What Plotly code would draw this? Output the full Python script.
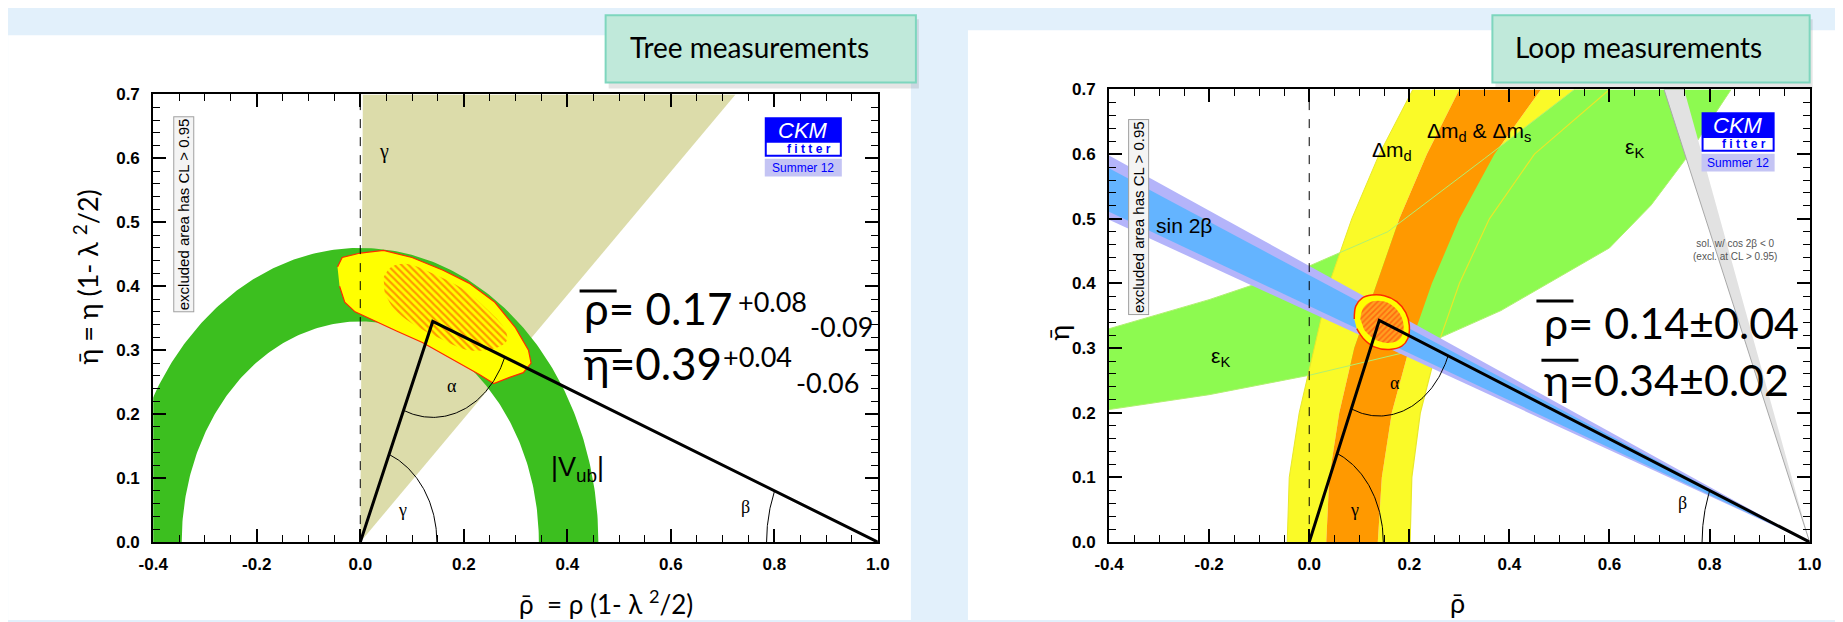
import numpy as np
import plotly.graph_objects as go

W, H = 1843, 622
OFF = 8  # default page margin of the html body
# measured screen transform of the rendered page (screen = a + s * layout)
SX, AX = 0.9845, 15.0
SY, AY = 0.981, 1.8

# ---------------- axis ticks ----------------
x_tickvals = [-0.4, -0.2, 0.0, 0.2, 0.4, 0.6, 0.8, 1.0]
x_ticktext = ['-0.4', '-0.2', '0.0', '0.2', '0.4', '0.6', '0.8', '1.0']
y_tickvals = [0.0, 0.1, 0.2, 0.3, 0.4, 0.5, 0.6, 0.7]
y_ticktext = ['0.0', '0.1', '0.2', '0.3', '0.4', '0.5', '0.6', '0.7']

# ---------------- left panel: tree measurements ----------------
tree_apex = (0.14, 0.345)
vub_radii = [0.345, 0.46]
gamma_wedge_rho = [0.0, 0.725, 0.005]
gamma_wedge_eta = [0.0, 0.70, 0.70]
tree_cl95_rho = [-0.044, -0.035, 0.0, 0.045, 0.10, 0.16, 0.21, 0.26, 0.30, 0.325, 0.33,
                 0.315, 0.29, 0.258, 0.23, 0.18, 0.12, 0.07, 0.03, -0.01, -0.03, -0.04]
tree_cl95_eta = [0.43, 0.445, 0.452, 0.456, 0.445, 0.425, 0.405, 0.375, 0.335, 0.30, 0.28,
                 0.265, 0.258, 0.248, 0.262, 0.285, 0.312, 0.33, 0.345, 0.36, 0.375, 0.40]
tree_cl68_rho = [0.045, 0.06, 0.09, 0.14, 0.20, 0.25, 0.28, 0.283, 0.26, 0.21, 0.15, 0.10, 0.065, 0.047]
tree_cl68_eta = [0.414, 0.43, 0.435, 0.42, 0.395, 0.36, 0.332, 0.315, 0.303, 0.30, 0.32, 0.342, 0.365, 0.39]
tree_arc_radii = {'gamma': 0.148, 'alpha': 0.15, 'beta': 0.215}

# ---------------- right panel: loop measurements ----------------
loop_apex = (0.14, 0.343)
sin2b_outer_eta_at_left = [0.4985, 0.598]   # eta at rho=-0.4, band edges through (1,0)
sin2b_inner_eta_at_left = [0.511, 0.578]
cos2b_rho_at_top = [0.709, 0.749]           # grey wedge through (1,0), rho at eta=0.7
eK_upper_rho = [-0.4, -0.2, 0.0, 0.157, 0.35, 0.53]
eK_upper_eta = [0.33, 0.375, 0.427, 0.48, 0.593, 0.70]
eK_lower_rho = [-0.4, -0.2, 0.0, 0.2, 0.383, 0.6, 0.683, 0.75, 0.80, 0.843]
eK_lower_eta = [0.205, 0.228, 0.258, 0.295, 0.358, 0.455, 0.521, 0.59, 0.65, 0.70]
band_eta = [0.0, 0.1, 0.2, 0.3, 0.4, 0.5, 0.6, 0.7]
dmd_left_rho = [-0.044, -0.04, -0.02, 0.01, 0.04, 0.085, 0.14, 0.207]
dmd_right_rho = [0.2015, 0.205, 0.222, 0.255, 0.30, 0.36, 0.45, 0.60]
dmdms_left_rho = [0.034, 0.04, 0.06, 0.09, 0.135, 0.18, 0.235, 0.30]
dmdms_right_rho = [0.137, 0.145, 0.165, 0.20, 0.245, 0.30, 0.37, 0.463]
loop_cl95_rho = [0.09, 0.093, 0.105, 0.125, 0.15, 0.175, 0.193, 0.20, 0.197, 0.185, 0.16, 0.13, 0.108, 0.095]
loop_cl95_eta = [0.345, 0.365, 0.377, 0.382, 0.381, 0.372, 0.355, 0.335, 0.315, 0.303, 0.298, 0.302, 0.315, 0.33]
loop_cl68_rho = [0.102, 0.108, 0.125, 0.15, 0.172, 0.186, 0.188, 0.178, 0.155, 0.128, 0.11]
loop_cl68_eta = [0.345, 0.362, 0.372, 0.372, 0.362, 0.345, 0.325, 0.312, 0.308, 0.315, 0.328]
loop_arc_radii = {'gamma': 0.148, 'alpha': 0.148, 'beta': 0.215}

# ---------------- helpers ----------------
def P(px):
    return ((px - AX) / SX - OFF) / W


def Q(py):
    return 1 - ((py - AY) / SY - OFF) / H


def poly(xs, ys, color, xa, ya, line_color=None, lw=0, **kw):
    return go.Scatter(x=list(xs), y=list(ys), mode='lines', fill='toself', fillcolor=color,
                      line=dict(color=line_color or color, width=lw), xaxis=xa, yaxis=ya,
                      hoverinfo='skip', showlegend=False, **kw)


def line(xs, ys, color, width, xa, ya, dash='solid', shape='linear'):
    return go.Scatter(x=list(xs), y=list(ys), mode='lines',
                      line=dict(color=color, width=width, dash=dash, shape=shape),
                      xaxis=xa, yaxis=ya, hoverinfo='skip', showlegend=False)


def arc(cx, cy, r, a0, a1, n=80):
    t = np.radians(np.linspace(a0, a1, n))
    return cx + r * np.cos(t), cy + r * np.sin(t)


def triangle_traces(apex, radii, xa, ya):
    ax_, ay_ = apex
    tr = [line([0, ax_, 1], [0, ay_, 0], 'black', 3, xa, ya)]
    g_ang = np.degrees(np.arctan2(ay_, ax_))
    a_left = np.degrees(np.arctan2(-ay_, -ax_))
    a_right = np.degrees(np.arctan2(-ay_, 1 - ax_))
    b_ang = np.degrees(np.arctan2(ay_, -(1 - ax_)))
    x, y = arc(0, 0, radii['gamma'], 0, g_ang)
    tr.append(line(x, y, 'black', 1, xa, ya))
    x, y = arc(ax_, ay_, radii['alpha'], a_left, a_right)
    tr.append(line(x, y, 'black', 1, xa, ya))
    x, y = arc(1, 0, radii['beta'], 180, b_ang)
    tr.append(line(x, y, 'black', 1, xa, ya))
    return tr


fig = go.Figure()

# ---------- left panel traces ----------
fig.add_trace(poly(gamma_wedge_rho, gamma_wedge_eta, '#dcdcaa', 'x', 'y'))
th = np.linspace(0, np.pi, 240)
ann_x = np.concatenate([vub_radii[1] * np.cos(th), vub_radii[0] * np.cos(th[::-1])])
ann_y = np.concatenate([vub_radii[1] * np.sin(th), vub_radii[0] * np.sin(th[::-1])])
fig.add_trace(poly(ann_x, ann_y, '#3cbf1f', 'x', 'y'))
fig.add_trace(poly(tree_cl95_rho, tree_cl95_eta, '#ffff00', 'x', 'y', line_color='#ff2a00', lw=1.2))
fig.add_trace(go.Scatter(x=tree_cl68_rho, y=tree_cl68_eta, mode='lines', fill='toself',
                         fillcolor='#ffff00', line=dict(width=0, color='#ffff00', shape='spline'),
                         fillpattern=dict(shape='\\', fgcolor='#ff3300', bgcolor='#ffff00', size=5, solidity=0.45),
                         xaxis='x', yaxis='y', hoverinfo='skip', showlegend=False))
fig.add_trace(line([0, 0], [0, 0.7], 'black', 1, 'x', 'y', dash='dash'))
for t in triangle_traces(tree_apex, tree_arc_radii, 'x', 'y'):
    fig.add_trace(t)

# ---------- right panel traces ----------
fig.add_trace(poly(dmdms_right_rho + dmd_right_rho[::-1], band_eta + band_eta[::-1], '#fafa28', 'x2', 'y2'))
fig.add_trace(poly(eK_upper_rho + eK_lower_rho[::-1], eK_upper_eta + eK_lower_eta[::-1], '#8dfa50', 'x2', 'y2'))
fig.add_trace(poly(dmd_left_rho + dmdms_left_rho[::-1], band_eta + band_eta[::-1], '#fafa28', 'x2', 'y2'))
fig.add_trace(poly(dmdms_left_rho + dmdms_right_rho[::-1], band_eta + band_eta[::-1], '#ff9900', 'x2', 'y2'))
fig.add_trace(line(dmd_right_rho, band_eta, '#e8e82a', 1.2, 'x2', 'y2'))
fig.add_trace(line(dmd_left_rho, band_eta, '#e8e82a', 1.0, 'x2', 'y2'))
fig.add_trace(line(eK_upper_rho, eK_upper_eta, '#b0f070', 1.0, 'x2', 'y2'))
fig.add_trace(line(eK_lower_rho, eK_lower_eta, '#b0f070', 1.0, 'x2', 'y2'))
fig.add_trace(poly([1, cos2b_rho_at_top[0], cos2b_rho_at_top[1]], [0, 0.7, 0.7], '#e2e2e2', 'x2', 'y2',
                   line_color='#a8a8a8', lw=1))
fig.add_trace(poly([1, -0.4, -0.4], [0, sin2b_outer_eta_at_left[0], sin2b_outer_eta_at_left[1]], '#b4b4fa', 'x2', 'y2'))
fig.add_trace(poly([1, -0.4, -0.4], [0, sin2b_inner_eta_at_left[0], sin2b_inner_eta_at_left[1]], '#64b4ff', 'x2', 'y2'))
fig.add_trace(go.Scatter(x=loop_cl95_rho, y=loop_cl95_eta, mode='lines', fill='toself', fillcolor='#ffff00',
                         line=dict(width=1.5, color='#ff2a00', shape='spline'),
                         xaxis='x2', yaxis='y2', hoverinfo='skip', showlegend=False))
fig.add_trace(go.Scatter(x=loop_cl68_rho, y=loop_cl68_eta, mode='lines', fill='toself', fillcolor='#ff9900',
                         line=dict(width=0, color='#ff9900', shape='spline'),
                         fillpattern=dict(shape='/', fgcolor='#ff3300', bgcolor='#ffa020', size=4, solidity=0.4),
                         xaxis='x2', yaxis='y2', hoverinfo='skip', showlegend=False))
fig.add_trace(line([0, 0], [0, 0.7], 'black', 1, 'x2', 'y2', dash='dash'))
for t in triangle_traces(loop_apex, loop_arc_radii, 'x2', 'y2'):
    fig.add_trace(t)

# ---------- axes ----------
tickfont = dict(family='Liberation Sans, Arial', size=17, color='black', weight='bold')
common_x = dict(range=[-0.4, 1.0], tickvals=x_tickvals, ticktext=x_ticktext, ticks='inside', ticklen=13,
                tickwidth=1.5, tickcolor='black', showline=True, linecolor='black', linewidth=2,
                mirror='ticks', showgrid=False, zeroline=False, tickfont=tickfont, ticklabelstandoff=6,
                minor=dict(dtick=0.05, tick0=0, ticks='inside', ticklen=7, tickwidth=1, tickcolor='black', showgrid=False))
common_y = dict(range=[0, 0.7], tickvals=y_tickvals, ticktext=y_ticktext, ticks='inside', ticklen=13,
                tickwidth=1.5, tickcolor='black', showline=True, linecolor='black', linewidth=2,
                mirror='ticks', showgrid=False, zeroline=False, tickfont=tickfont, ticklabelstandoff=8,
                minor=dict(dtick=0.02, tick0=0, ticks='inside', ticklen=7, tickwidth=1, tickcolor='black', showgrid=False))

fig.update_layout(
    width=W, height=H, margin=dict(l=0, r=0, t=0, b=0),
    paper_bgcolor='#e2f0fb', plot_bgcolor='white', showlegend=False,
    xaxis=dict(domain=[P(153), P(877)], anchor='y', **common_x),
    yaxis=dict(domain=[Q(541), Q(88)], anchor='x', **common_y),
    xaxis2=dict(domain=[P(1108), P(1808)], anchor='y2', **common_x),
    yaxis2=dict(domain=[Q(541), Q(83)], anchor='x2', **common_y),
)

shapes = []
# background panels
shapes.append(dict(type='rect', xref='paper', yref='paper', x0=P(8), x1=P(910), y0=0, y1=Q(28),
                   fillcolor='white', line=dict(width=0), layer='below'))
shapes.append(dict(type='rect', xref='paper', yref='paper', x0=P(967), x1=1, y0=0, y1=Q(23),
                   fillcolor='white', line=dict(width=0), layer='below'))
# title boxes with shadow
for (x0, x1) in [(605, 915), (1491, 1808)]:
    shapes.append(dict(type='rect', xref='paper', yref='paper', x0=P(x0 + 3), x1=P(x1 + 3), y0=Q(82), y1=Q(12),
                       fillcolor='rgba(0,0,0,0.10)', line=dict(width=0), layer='above'))
    shapes.append(dict(type='rect', xref='paper', yref='paper', x0=P(x0), x1=P(x1), y0=Q(76), y1=Q(8),
                       fillcolor='#c0e9da', line=dict(color='#7ed6be', width=2), layer='above'))
# CKMfitter logos
for (lx0, lx1, ly0) in [(764, 841, 111), (1700, 1773, 106)]:
    shapes.append(dict(type='rect', xref='paper', yref='paper', x0=P(lx0), x1=P(lx1), y0=Q(ly0 + 40), y1=Q(ly0),
                       fillcolor='#0000ff', line=dict(width=0), layer='above'))
    shapes.append(dict(type='rect', xref='paper', yref='paper', x0=P(lx0 + 2), x1=P(lx1 - 2), y0=Q(ly0 + 38), y1=Q(ly0 + 26),
                       fillcolor='white', line=dict(width=0), layer='above'))
    shapes.append(dict(type='rect', xref='paper', yref='paper', x0=P(lx0), x1=P(lx1), y0=Q(ly0 + 60), y1=Q(ly0 + 42),
                       fillcolor='#c4c4f4', line=dict(width=0), layer='above'))
# overline bars in equations
for (x0, x1, yy) in [(579, 616, 287), (583, 621, 347), (1535, 1572, 297), (1540, 1577, 357)]:
    shapes.append(dict(type='line', xref='paper', yref='paper', x0=P(x0), x1=P(x1), y0=Q(yy), y1=Q(yy),
                       line=dict(color='black', width=3), layer='above'))
fig.update_layout(shapes=shapes)

anns = []


def pann(text, px, py, size, family='Lato, Noto Sans', xanchor='left', yanchor='middle', color='black', angle=0, **kw):
    anns.append(dict(text=text, x=P(px), y=Q(py), xref='paper', yref='paper', showarrow=False,
                     xanchor=xanchor, yanchor=yanchor, textangle=angle,
                     font=dict(size=size, family=family, color=color), **kw))


def dann(text, x, y, size, xa='x', ya='y', family='Liberation Serif, Times New Roman', color='black', **kw):
    anns.append(dict(text=text, x=x, y=y, xref=xa, yref=ya, showarrow=False,
                     font=dict(size=size, family=family, color=color), **kw))


# titles
pann('Tree measurements', 627, 40, 28)
pann('Loop measurements', 1512, 40, 28)

# logos text
for (lx0, lx1, ly0) in [(764, 841, 111), (1700, 1773, 106)]:
    cx = (lx0 + lx1) / 2
    pann('<i>CKM</i>', cx, ly0 + 13, 22, family='Liberation Sans, Arial', xanchor='center', color='white')
    pann('<b>f i t t e r</b>', cx + 6, ly0 + 32, 12, family='Liberation Sans, Arial', xanchor='center', color='#0000ff')
    pann('Summer 12', cx, ly0 + 51, 12, family='Liberation Sans Narrow, Liberation Sans, Arial', xanchor='center', color='#0000ff')

# equations
pann('ρ= 0.17', 581, 304, 44)
pann('+0.08', 735, 298, 27)
pann('-0.09', 807, 323, 27)
pann('η=0.39', 581, 360, 44)
pann('+0.04', 720, 353, 27)
pann('-0.06', 793, 379, 27)
pann('ρ= 0.14±0.04', 1541, 319, 43)
pann('η=0.34±0.02', 1541, 376, 43)

# axis titles
pann('η̄ = η (1- λ <sup>2</sup>/2)', 86, 273, 27, xanchor='center', angle=-90)
pann('ρ̄  = ρ (1- λ <sup>2</sup>/2)', 605, 602, 26, xanchor='center')
pann('η̄', 1058, 329, 27, xanchor='center', angle=-90)
pann('ρ̄', 1456, 602, 27, xanchor='center')

# excluded-area boxes
pann('excluded area has CL > 0.95', 183, 209, 15, family='Liberation Sans, Arial', xanchor='center', angle=-90,
     bgcolor='#f4f4f4', bordercolor='#a0a0a0', borderwidth=1, borderpad=1)
pann('excluded area has CL > 0.95', 1138, 212, 15, family='Liberation Sans, Arial', xanchor='center', angle=-90,
     bgcolor='#f4f4f4', bordercolor='#a0a0a0', borderwidth=1, borderpad=1)

# in-plot labels, left
dann('γ', 0.045, 0.61, 20)
dann('α', 0.177, 0.244, 18)
dann('γ', 0.081, 0.05, 18)
dann('β', 0.745, 0.055, 18)
dann('|V<sub>ub</sub>|', 0.42, 0.115, 27, family='Liberation Sans Narrow, Liberation Sans, Arial')

# in-plot labels, right
dann('γ', 0.09, 0.05, 18, 'x2', 'y2')
dann('α', 0.172, 0.246, 18, 'x2', 'y2')
dann('β', 0.745, 0.06, 18, 'x2', 'y2')
dann('sin 2β', -0.25, 0.49, 21, 'x2', 'y2', family='Liberation Sans Narrow, Liberation Sans, Arial')
dann('ε<sub>K</sub>', -0.177, 0.287, 21, 'x2', 'y2', family='Liberation Sans Narrow, Liberation Sans, Arial')
dann('ε<sub>K</sub>', 0.65, 0.61, 21, 'x2', 'y2', family='Liberation Sans Narrow, Liberation Sans, Arial')
dann('Δm<sub>d</sub>', 0.165, 0.605, 21, 'x2', 'y2', family='Liberation Sans Narrow, Liberation Sans, Arial')
dann('Δm<sub>d</sub> &amp; Δm<sub>s</sub>', 0.34, 0.635, 21, 'x2', 'y2', family='Liberation Sans Narrow, Liberation Sans, Arial')
dann('sol. w/ cos 2β &lt; 0<br>(excl. at CL &gt; 0.95)', 0.851, 0.452, 10, 'x2', 'y2',
     family='Liberation Sans Narrow, Liberation Sans, Arial', color='#555555')

fig.update_layout(annotations=anns)
fig.write_html('out.html', config={'displayModeBar': False},
               post_script="document.body.style.background='#ffffff';")
